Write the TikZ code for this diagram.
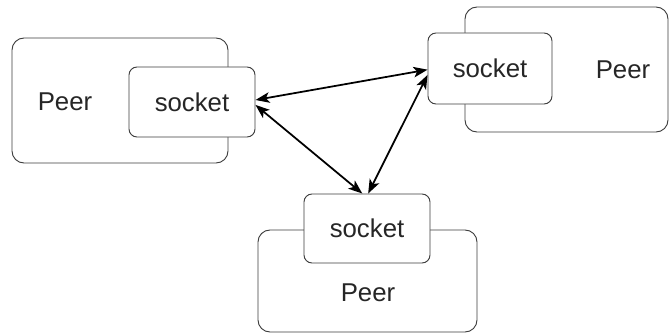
\documentclass[tikz,border=0pt]{standalone}
\usepackage{fontspec}
\setmainfont{Liberation Sans}
\usepackage{tikz}
\usetikzlibrary{arrows.meta,calc}
\definecolor{edgegray}{RGB}{60,60,60}

\begin{document}
\begin{tikzpicture}[
    every node/.style={font=\fontsize{22}{26}\selectfont, text=black!85},
    peer/.style={rectangle, draw=edgegray, line width=0.8pt, fill=white,
                 rounded corners=0.36cm},
    sock/.style={rectangle, draw=edgegray, line width=0.8pt, fill=white,
                 minimum width=3.78cm, minimum height=2.1cm,
                 rounded corners=0.24cm, inner sep=0pt},
    link/.style={{Stealth[length=12pt,width=9pt,inset=3pt]}-{Stealth[length=12pt,width=9pt,inset=3pt]},
                 line width=1.5pt, black}
]
\useasboundingbox (0,0) rectangle (20.07,-10.02);

% Peers
\node[peer, minimum width=6.48cm, minimum height=3.75cm] (lpeer) at (3.6,-3.015) {};
\node[peer, minimum width=6.09cm, minimum height=3.75cm] (rpeer) at (16.995,-2.085) {};
\node[peer, minimum width=6.57cm, minimum height=3.06cm] (bpeer) at (11.025,-8.43) {};

\node (lptxt) at (1.95,-3.06) {Peer};
\node (rptxt) at (18.69,-2.1) {Peer};
\node (bptxt) at (11.04,-8.79) {Peer};

% Sockets
\node[sock] (lsock) at (5.76,-3.06) {socket};
\node[sock, minimum width=3.72cm, minimum height=2.13cm] (rsock) at (14.7,-2.055) {socket};
\node[sock, minimum height=2.07cm] (bsock) at (11.01,-6.855) {socket};

% Connections between sockets
\draw[link] ([yshift=1.7pt]lsock.east) -- ([yshift=-1pt]rsock.west);
\draw[link] ([yshift=-2.5pt]lsock.east) -- ([xshift=-4pt]bsock.north);
\draw[link] ([yshift=-5.5pt]rsock.west) -- ([xshift=1pt]bsock.north);

\end{tikzpicture}
\end{document}
